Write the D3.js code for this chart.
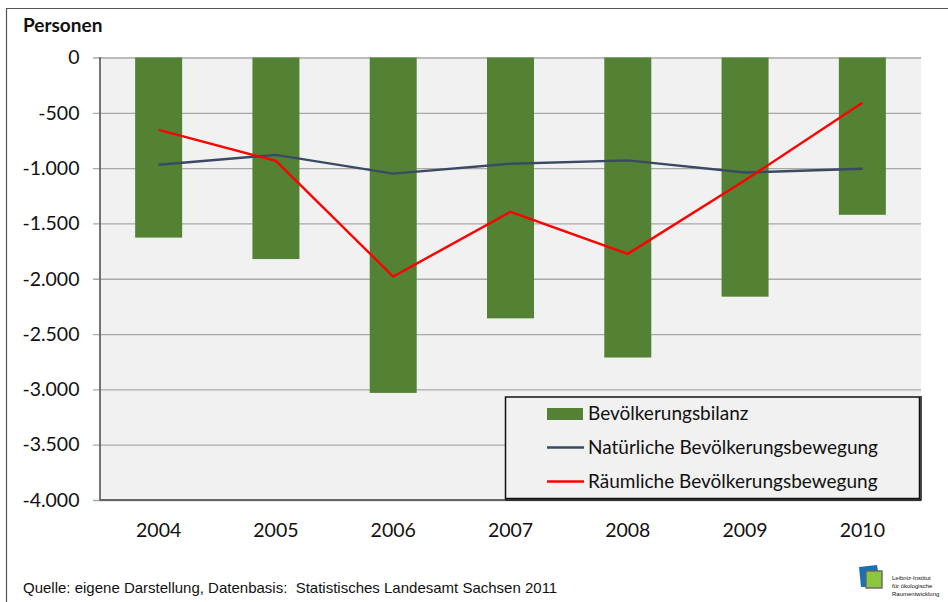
<!DOCTYPE html>
<html>
<head>
<meta charset="utf-8">
<script src="https://cdn.jsdelivr.net/npm/d3@7"></script>
<style>
html,body{margin:0;padding:0;background:#fff}
svg{display:block}
text{font-family:Lato,"Open Sans",sans-serif;fill:#111}
</style>
</head>
<body>
<script>
const years = ["2004","2005","2006","2007","2008","2009","2010"];
const bilanz = [-1628,-1822,-3032,-2358,-2712,-2162,-1422];
const natuerlich = [-970,-880,-1050,-960,-930,-1040,-1005];
const raeumlich = [-655,-935,-1980,-1395,-1775,-1110,-410];
const yTicks = [0,-500,-1000,-1500,-2000,-2500,-3000,-3500,-4000];
const legendNames = ["Bevölkerungsbilanz","Natürliche Bevölkerungsbewegung","Räumliche Bevölkerungsbewegung"];
const logoLines = ["Leibniz-Institut","für ökologische","Raumentwicklung"];

const svg = d3.select("body").append("svg").attr("width",948).attr("height",602);
const plot = {left:100,right:921,top:57.5,bottom:500};

// Outer frame: open at the bottom and right page edges
svg.append("path").attr("d","M6.5,602V8.5H948").attr("fill","none").attr("stroke","#555").attr("stroke-width",1.2);

svg.append("rect").attr("x",plot.left).attr("y",plot.top)
  .attr("width",plot.right-plot.left).attr("height",plot.bottom-plot.top).attr("fill","#f1f1f1");

const x = d3.scaleBand().domain(years).range([plot.left,plot.right]);
const y = d3.scaleLinear().domain([0,-4000]).range([plot.top,plot.bottom]);
const barW = 47;
const cx = d => x(d)+x.bandwidth()/2;

// Gridlines with their outside tick stubs
const yAxis = d3.axisLeft(y).tickValues(yTicks).tickSize(plot.right-plot.left+7).tickSizeOuter(0)
  .tickPadding(13.5).tickFormat(d => d3.format(",")(d).replace("−","-").replace(/,/g,"."));
const gy = svg.append("g").attr("transform",`translate(${plot.right},0)`).call(yAxis);
gy.select(".domain").remove();
gy.selectAll(".tick line").attr("stroke","#a9a9a9").attr("stroke-width",1.3);
gy.selectAll(".tick text").attr("font-size",19.5).attr("fill","#111").style("font-family","Lato");

// Bars
svg.append("g").selectAll("rect").data(years).join("rect")
  .attr("x",d=>cx(d)-barW/2).attr("width",barW)
  .attr("y",plot.top).attr("height",(d,i)=>y(bilanz[i])-plot.top)
  .attr("fill","#548235");

// Axis lines
svg.append("path").attr("d",`M${plot.left},${plot.top-0.5}V${plot.bottom}H${plot.right}`)
  .attr("fill","none").attr("stroke","#666").attr("stroke-width",1.8);

// Lines
const line = d3.line().x((d,i)=>cx(years[i])).y(d=>y(d));
svg.append("path").datum(natuerlich).attr("d",line).attr("fill","none").attr("stroke","#3b4a63").attr("stroke-width",2.4);
svg.append("path").datum(raeumlich).attr("d",line).attr("fill","none").attr("stroke","#fe0000").attr("stroke-width",2.4);

// Year labels
svg.append("g").selectAll("text").data(years).join("text")
  .attr("x",cx).attr("y",537).attr("text-anchor","middle").attr("font-size",19.5).text(d=>d);

svg.append("text").attr("x",23).attr("y",32).attr("font-size",19).attr("font-weight",700).text("Personen");

// Legend
const leg = svg.append("g");
leg.append("rect").attr("x",505.5).attr("y",397).attr("width",414).attr("height",101.5)
  .attr("fill","#f1f1f1").attr("stroke","#111").attr("stroke-width",1.5);
svg.append("path").attr("d","M921,396V500H505").attr("fill","none").attr("stroke","#222").attr("stroke-width",1.6);
leg.append("rect").attr("x",547).attr("y",408).attr("width",36).attr("height",12).attr("fill","#548235");
leg.append("line").attr("x1",547).attr("x2",584).attr("y1",447.5).attr("y2",447.5).attr("stroke","#3b4a63").attr("stroke-width",2.4);
leg.append("line").attr("x1",547).attr("x2",584).attr("y1",481.5).attr("y2",481.5).attr("stroke","#fe0000").attr("stroke-width",2.4);
leg.selectAll("text").data(legendNames).join("text")
  .attr("x",588).attr("y",(d,i)=>420+i*34).attr("font-size",19).text(d=>d);

// Source line
svg.append("text").attr("x",23).attr("y",593).attr("font-size",15)
  .style("font-family","Liberation Sans").attr("fill","#222")
  .attr("xml:space","preserve").text("Quelle: eigene Darstellung, Datenbasis:  Statistisches Landesamt Sachsen 2011");

// Institute logo
const logo = svg.append("g");
logo.append("path").attr("d","M859,567L877,565L878,571L866,572L866,587L861,587Z").attr("fill","#1a6fb5");
logo.append("rect").attr("x",866).attr("y",571).attr("width",16).attr("height",17).attr("fill","#8cc63f").attr("stroke","#666").attr("stroke-width",1.4);
logo.selectAll("text").data(logoLines).join("text")
  .attr("x",892).attr("y",(d,i)=>580+i*8).attr("font-size",6).attr("fill","#555").style("font-family","Liberation Sans").text(d=>d);
</script>
</body>
</html>
